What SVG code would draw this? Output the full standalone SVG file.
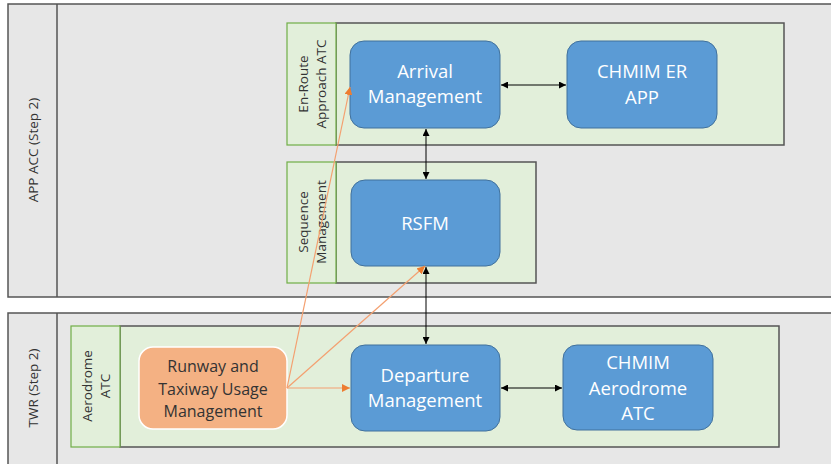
<svg xmlns="http://www.w3.org/2000/svg" width="831" height="464" viewBox="0 0 831 464">
<defs>
<style>
.lane{fill:#e7e7e7;stroke:#555;stroke-width:1.5}
.ldiv{stroke:#555;stroke-width:1.5}
.lbl{fill:#e2efda;stroke:#70ad47;stroke-width:1.2}
.cnt{fill:#e2efda;stroke:#555;stroke-width:1.5}
.blue{fill:#5b9bd5;stroke:#41719c;stroke-width:1}
.orange{fill:#f4b183;stroke:#fff;stroke-width:1.5}
.bt{font-family:"Open Sans","Liberation Sans",sans-serif;font-size:18.5px;fill:#fff;text-anchor:middle}
.ot{font-family:"Open Sans","Liberation Sans",sans-serif;font-size:16px;fill:#333;text-anchor:middle}
.lt{font-family:"Open Sans","Liberation Sans",sans-serif;font-size:13.5px;fill:#333;text-anchor:middle}
.blk{stroke:#000;stroke-width:1;fill:none}
.org{stroke:#f4a070;stroke-width:1.2;fill:none}
</style>
<marker id="ab" viewBox="0 0 10 10" refX="10" refY="5" markerWidth="7" markerHeight="7" markerUnits="userSpaceOnUse" orient="auto-start-reverse"><path d="M0,0 L10,5 L0,10 z" fill="#000"/></marker>
<marker id="ao" viewBox="0 0 10 10" refX="10" refY="5" markerWidth="8" markerHeight="8" markerUnits="userSpaceOnUse" orient="auto"><path d="M0,0 L10,5 L0,10 z" fill="#ed7d31"/></marker>
</defs>
<rect width="831" height="464" fill="#fff"/>
<g id="lane-app">
<rect class="lane" x="8" y="4" width="830" height="293"/>
<line class="ldiv" x1="57" y1="4" x2="57" y2="297"/>
<text class="lt" transform="translate(38,150) rotate(-90)">APP ACC (Step 2)</text>
</g>
<g id="lane-twr">
<rect class="lane" x="8" y="313" width="830" height="160"/>
<line class="ldiv" x1="57" y1="313" x2="57" y2="464"/>
<text class="lt" transform="translate(38,388) rotate(-90)">TWR (Step 2)</text>
</g>
<g id="grp-enroute">
<rect class="cnt" x="336" y="23" width="448" height="122"/>
<rect class="lbl" x="287" y="23" width="49" height="122"/>
<text class="lt" transform="translate(311,84) rotate(-90)"><tspan x="0" y="-3">En-Route</tspan><tspan x="0" y="15">Approach ATC</tspan></text>
</g>
<g id="grp-seq">
<rect class="cnt" x="336" y="162" width="200" height="121"/>
<rect class="lbl" x="287" y="162" width="49" height="121"/>
<text class="lt" transform="translate(311,222) rotate(-90)"><tspan x="0" y="-3">Sequence</tspan><tspan x="0" y="15">Management</tspan></text>
</g>
<g id="grp-aerodrome">
<rect class="cnt" x="120" y="326" width="659" height="121"/>
<rect class="lbl" x="71" y="326" width="49" height="121"/>
<text class="lt" transform="translate(95,386) rotate(-90)"><tspan x="0" y="-3">Aerodrome</tspan><tspan x="0" y="15">ATC</tspan></text>
</g>
<g id="node-arrival">
<rect class="blue" x="350" y="41" width="150" height="87" rx="14"/>
<text class="bt" x="425" y="78">Arrival</text>
<text class="bt" x="425" y="103">Management</text>
</g>
<g id="node-chmim-er">
<rect class="blue" x="567" y="41" width="150" height="87" rx="14"/>
<text class="bt" x="642" y="78">CHMIM ER</text>
<text class="bt" x="642" y="104">APP</text>
</g>
<g id="node-rsfm">
<rect class="blue" x="351" y="180" width="149" height="86" rx="14"/>
<text class="bt" x="425" y="230">RSFM</text>
</g>
<g id="node-runway">
<rect class="orange" x="139" y="347" width="148" height="82" rx="14"/>
<text class="ot" x="213" y="372">Runway and</text>
<text class="ot" x="213" y="395">Taxiway Usage</text>
<text class="ot" x="213" y="417">Management</text>
</g>
<g id="node-departure">
<rect class="blue" x="351" y="345" width="149" height="86" rx="14"/>
<text class="bt" x="425" y="382">Departure</text>
<text class="bt" x="425" y="407">Management</text>
</g>
<g id="node-chmim-ad">
<rect class="blue" x="563" y="345" width="150" height="85" rx="14"/>
<text class="bt" x="638" y="369">CHMIM</text>
<text class="bt" x="638" y="395">Aerodrome</text>
<text class="bt" x="638" y="420">ATC</text>
</g>
<g id="connectors">
<line class="blk" x1="501" y1="85" x2="566" y2="85" marker-start="url(#ab)" marker-end="url(#ab)"/>
<line class="blk" x1="426" y1="129" x2="426" y2="179" marker-start="url(#ab)" marker-end="url(#ab)"/>
<line class="blk" x1="426" y1="267" x2="426" y2="344" marker-start="url(#ab)" marker-end="url(#ab)"/>
<line class="blk" x1="501" y1="388" x2="562" y2="388" marker-start="url(#ab)" marker-end="url(#ab)"/>
<line class="org" x1="287" y1="388" x2="350" y2="388" marker-end="url(#ao)"/>
<line class="org" x1="287" y1="388" x2="425" y2="266" marker-end="url(#ao)"/>
<line class="org" x1="287" y1="388" x2="350" y2="87" marker-end="url(#ao)"/>
</g>
</svg>
